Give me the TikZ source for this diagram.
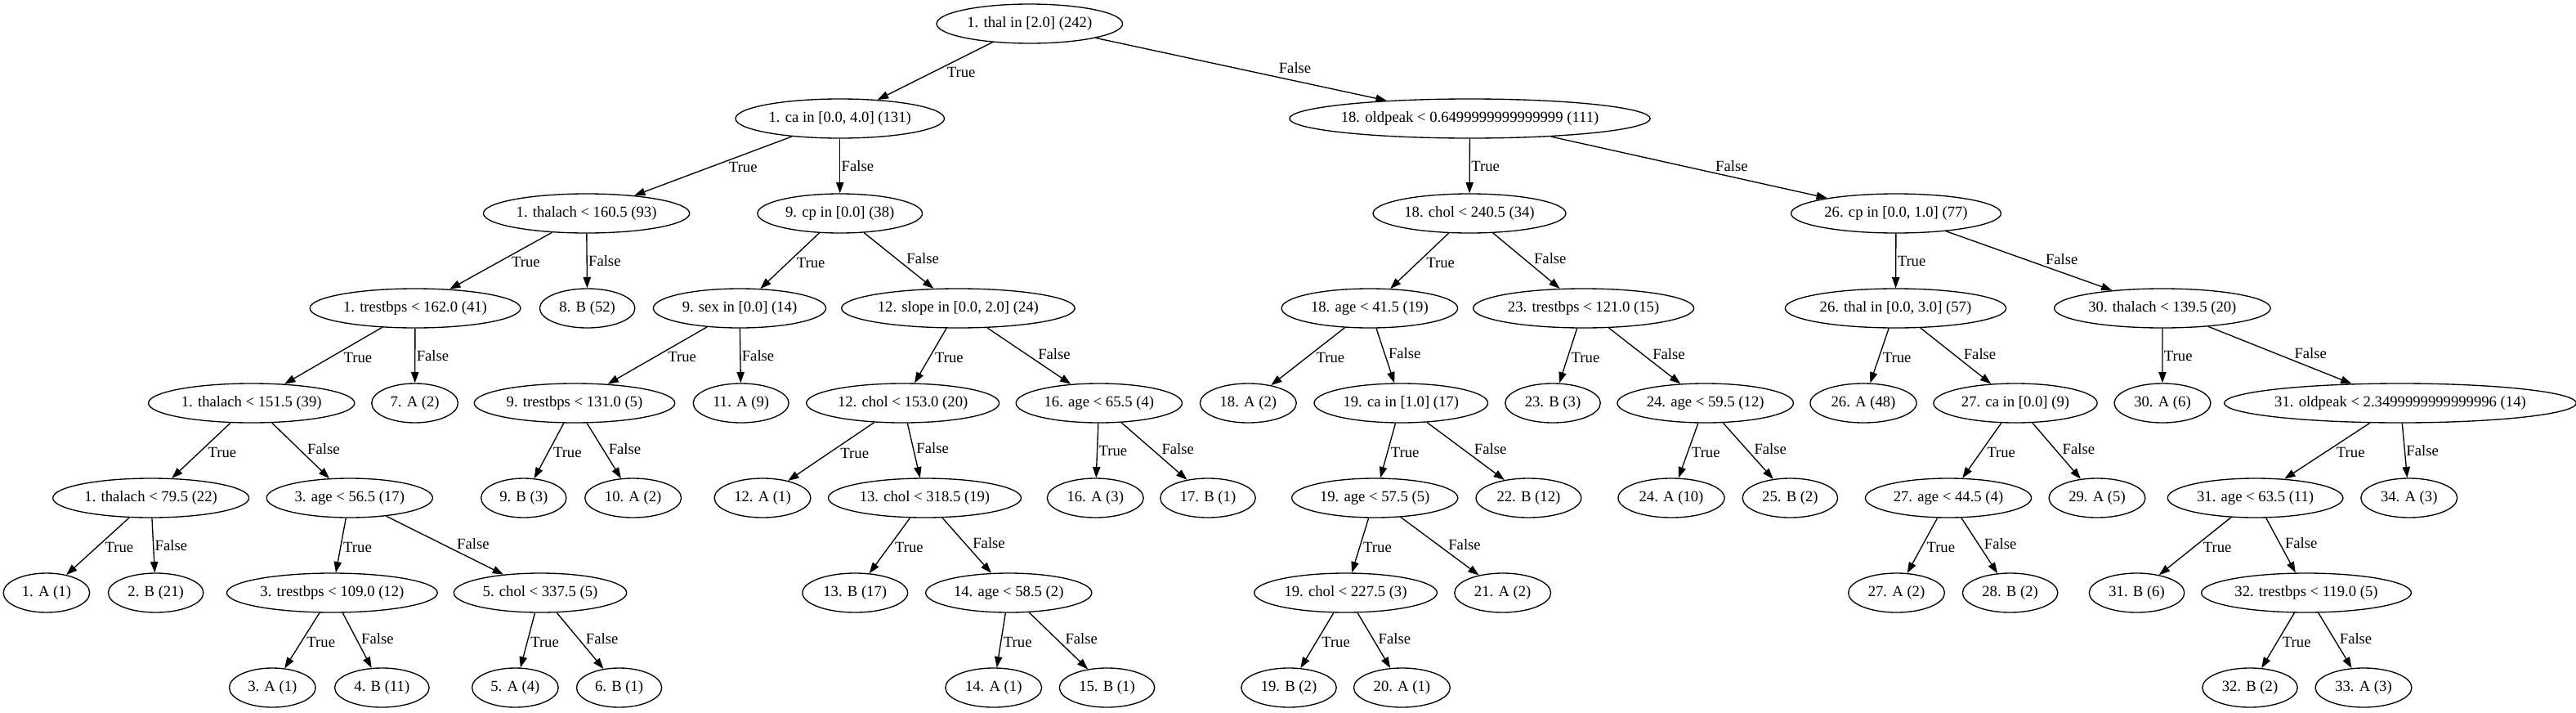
\documentclass[tikz,border=0pt]{standalone}
\usepackage{fontspec}
\setmainfont{Liberation Serif}
\usetikzlibrary{shapes.geometric,arrows.meta}
\newcommand\gvfont{\fontsize{14pt}{16pt}\selectfont}
\newcommand\gvn[4]{%
  \pgfmathsetmacro\gvy{-(21.75+87*#3)}%
  \node[gvnode] (#1) at (#2pt,\gvy pt) {\makebox[0.9293\width]{#4}};}
\tikzset{
  every node/.style={font=\gvfont},
  gvnode/.style={draw, ellipse, line width=1pt, inner xsep=7.04pt, inner ysep=0pt, minimum height=36pt},
  gvedge/.style={line width=1pt, -{Triangle[length=10pt,width=7pt]}},
  labL/.style={pos=0.41, anchor=north west, inner sep=1pt},
  labR/.style={pos=0.59, anchor=south west, inner sep=1pt},
  labV/.style={pos=0.5, anchor=west, inner sep=1pt}
}
\begin{document}
\begin{tikzpicture}
\fill[white] (0,0) rectangle (2364pt,-653.25pt);
\useasboundingbox (0,0) rectangle (2364pt,-653.25pt);
% level 0
\gvn{n1}{944.85}{0}{1. thal in [2.0] (242)}
% level 1
\gvn{ca1}{770.8}{1}{1. ca in [0.0, 4.0] (131)}
\gvn{op18}{1348.9}{1}{18. oldpeak < 0.6499999999999999 (111)}
% level 2
\gvn{th160}{538.2}{2}{1. thalach < 160.5 (93)}
\gvn{cp9}{770.8}{2}{9. cp in [0.0] (38)}
\gvn{ch240}{1348.5}{2}{18. chol < 240.5 (34)}
\gvn{cp26}{1740}{2}{26. cp in [0.0, 1.0] (77)}
% level 3
\gvn{tr162}{381}{3}{1. trestbps < 162.0 (41)}
\gvn{b52}{539}{3}{8. B (52)}
\gvn{sx9}{678.75}{3}{9. sex in [0.0] (14)}
\gvn{sl12}{879.3}{3}{12. slope in [0.0, 2.0] (24)}
\gvn{ag41}{1256.9}{3}{18. age < 41.5 (19)}
\gvn{tr121}{1453.2}{3}{23. trestbps < 121.0 (15)}
\gvn{th26}{1739.6}{3}{26. thal in [0.0, 3.0] (57)}
\gvn{th139}{1984.4}{3}{30. thalach < 139.5 (20)}
% level 4
\gvn{th151}{230.8}{4}{1. thalach < 151.5 (39)}
\gvn{a7}{380.7}{4}{7. A (2)}
\gvn{tr131}{527.25}{4}{9. trestbps < 131.0 (5)}
\gvn{a11}{680}{4}{11. A (9)}
\gvn{ch153}{828.5}{4}{12. chol < 153.0 (20)}
\gvn{ag65}{1008.6}{4}{16. age < 65.5 (4)}
\gvn{a18}{1145.5}{4}{18. A (2)}
\gvn{ca19}{1285.7}{4}{19. ca in [1.0] (17)}
\gvn{b23}{1425}{4}{23. B (3)}
\gvn{ag59}{1565}{4}{24. age < 59.5 (12)}
\gvn{a26}{1710}{4}{26. A (48)}
\gvn{ca27}{1849.5}{4}{27. ca in [0.0] (9)}
\gvn{a30}{1984.5}{4}{30. A (6)}
\gvn{op31}{2202.75}{4}{31. oldpeak < 2.3499999999999996 (14)}
% level 5
\gvn{th79}{138.5}{5}{1. thalach < 79.5 (22)}
\gvn{ag56}{320.85}{5}{3. age < 56.5 (17)}
\gvn{b9}{480.6}{5}{9. B (3)}
\gvn{a10}{581}{5}{10. A (2)}
\gvn{a12}{699.75}{5}{12. A (1)}
\gvn{ch318}{848.6}{5}{13. chol < 318.5 (19)}
\gvn{a16}{1005.2}{5}{16. A (3)}
\gvn{b17}{1108.5}{5}{17. B (1)}
\gvn{ag57}{1261.65}{5}{19. age < 57.5 (5)}
\gvn{b22}{1402.8}{5}{22. B (12)}
\gvn{a24}{1533.75}{5}{24. A (10)}
\gvn{b25}{1642.8}{5}{25. B (2)}
\gvn{ag44}{1788}{5}{27. age < 44.5 (4)}
\gvn{a29}{1924.5}{5}{29. A (5)}
\gvn{ag63}{2069.7}{5}{31. age < 63.5 (11)}
\gvn{a34}{2210.8}{5}{34. A (3)}
% level 6
\gvn{a1}{42.7}{6}{1. A (1)}
\gvn{b2}{143}{6}{2. B (21)}
\gvn{tr109}{304.8}{6}{3. trestbps < 109.0 (12)}
\gvn{ch337}{495.75}{6}{5. chol < 337.5 (5)}
\gvn{b13}{784.7}{6}{13. B (17)}
\gvn{ag58}{925.7}{6}{14. age < 58.5 (2)}
\gvn{ch227}{1234.9}{6}{19. chol < 227.5 (3)}
\gvn{a21}{1379}{6}{21. A (2)}
\gvn{a27}{1740.4}{6}{27. A (2)}
\gvn{b28}{1844.7}{6}{28. B (2)}
\gvn{b31}{1960.9}{6}{31. B (6)}
\gvn{tr119}{2116.5}{6}{32. trestbps < 119.0 (5)}
% level 7
\gvn{a3}{250}{7}{3. A (1)}
\gvn{b4}{350.5}{7}{4. B (11)}
\gvn{a5}{472.8}{7}{5. A (4)}
\gvn{b6}{568.2}{7}{6. B (1)}
\gvn{a14}{911.8}{7}{14. A (1)}
\gvn{b15}{1015.9}{7}{15. B (1)}
\gvn{b19}{1182.75}{7}{19. B (2)}
\gvn{a20}{1286.55}{7}{20. A (1)}
\gvn{b32}{2064.75}{7}{32. B (2)}
\gvn{a33}{2169}{7}{33. A (3)}
% edges
\draw[gvedge] (n1) -- node[labL]{True} (ca1);
\draw[gvedge] (n1) -- node[labR, xshift=9pt]{False} (op18);
\draw[gvedge] (ca1) -- node[labL]{True} (th160);
\draw[gvedge] (ca1) -- node[labV]{False} (cp9);
\draw[gvedge] (op18) -- node[labV]{True} (ch240);
\draw[gvedge] (op18) -- node[labR]{False} (cp26);
\draw[gvedge] (th160) -- node[labL]{True} (tr162);
\draw[gvedge] (th160) -- node[labV]{False} (b52);
\draw[gvedge] (cp9) -- node[labL]{True} (sx9);
\draw[gvedge] (cp9) -- node[labR]{False} (sl12);
\draw[gvedge] (ch240) -- node[labL]{True} (ag41);
\draw[gvedge] (ch240) -- node[labR]{False} (tr121);
\draw[gvedge] (cp26) -- node[labV]{True} (th26);
\draw[gvedge] (cp26) -- node[labR]{False} (th139);
\draw[gvedge] (tr162) -- node[labL]{True} (th151);
\draw[gvedge] (tr162) -- node[labV]{False} (a7);
\draw[gvedge] (sx9) -- node[labL]{True} (tr131);
\draw[gvedge] (sx9) -- node[labV]{False} (a11);
\draw[gvedge] (sl12) -- node[labL]{True} (ch153);
\draw[gvedge] (sl12) -- node[labR]{False} (ag65);
\draw[gvedge] (ag41) -- node[labL]{True} (a18);
\draw[gvedge] (ag41) -- node[labR]{False} (ca19);
\draw[gvedge] (tr121) -- node[labL]{True} (b23);
\draw[gvedge] (tr121) -- node[labR]{False} (ag59);
\draw[gvedge] (th26) -- node[labL]{True} (a26);
\draw[gvedge] (th26) -- node[labR]{False} (ca27);
\draw[gvedge] (th139) -- node[labV]{True} (a30);
\draw[gvedge] (th139) -- node[labR]{False} (op31);
\draw[gvedge] (th151) -- node[labL]{True} (th79);
\draw[gvedge] (th151) -- node[labR]{False} (ag56);
\draw[gvedge] (tr131) -- node[labL]{True} (b9);
\draw[gvedge] (tr131) -- node[labR]{False} (a10);
\draw[gvedge] (ch153) -- node[labL]{True} (a12);
\draw[gvedge] (ch153) -- node[labR]{False} (ch318);
\draw[gvedge] (ag65) -- node[labV]{True} (a16);
\draw[gvedge] (ag65) -- node[labR]{False} (b17);
\draw[gvedge] (ca19) -- node[labL]{True} (ag57);
\draw[gvedge] (ca19) -- node[labR]{False} (b22);
\draw[gvedge] (ag59) -- node[labL]{True} (a24);
\draw[gvedge] (ag59) -- node[labR]{False} (b25);
\draw[gvedge] (ca27) -- node[labL]{True} (ag44);
\draw[gvedge] (ca27) -- node[labR]{False} (a29);
\draw[gvedge] (op31) -- node[labL]{True} (ag63);
\draw[gvedge] (op31) -- node[labV]{False} (a34);
\draw[gvedge] (th79) -- node[labL]{True} (a1);
\draw[gvedge] (th79) -- node[labV]{False} (b2);
\draw[gvedge] (ag56) -- node[labL]{True} (tr109);
\draw[gvedge] (ag56) -- node[labR]{False} (ch337);
\draw[gvedge] (ch318) -- node[labL]{True} (b13);
\draw[gvedge] (ch318) -- node[labR]{False} (ag58);
\draw[gvedge] (ag57) -- node[labL]{True} (ch227);
\draw[gvedge] (ag57) -- node[labR]{False} (a21);
\draw[gvedge] (ag44) -- node[labL]{True} (a27);
\draw[gvedge] (ag44) -- node[labR]{False} (b28);
\draw[gvedge] (ag63) -- node[labL]{True} (b31);
\draw[gvedge] (ag63) -- node[labR]{False} (tr119);
\draw[gvedge] (tr109) -- node[labL]{True} (a3);
\draw[gvedge] (tr109) -- node[labR]{False} (b4);
\draw[gvedge] (ch337) -- node[labL]{True} (a5);
\draw[gvedge] (ch337) -- node[labR]{False} (b6);
\draw[gvedge] (ag58) -- node[labL]{True} (a14);
\draw[gvedge] (ag58) -- node[labR]{False} (b15);
\draw[gvedge] (ch227) -- node[labL]{True} (b19);
\draw[gvedge] (ch227) -- node[labR]{False} (a20);
\draw[gvedge] (tr119) -- node[labL]{True} (b32);
\draw[gvedge] (tr119) -- node[labR]{False} (a33);
\end{tikzpicture}
\end{document}
